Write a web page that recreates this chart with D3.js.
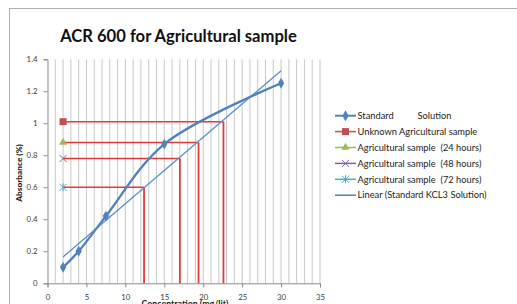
<!DOCTYPE html>
<html><head><meta charset="utf-8">
<script src="https://cdn.jsdelivr.net/npm/d3@7/dist/d3.min.js"></script>
<style>body{margin:0;background:#fff}svg{display:block}text{font-family:Lato,"Liberation Sans",sans-serif}</style>
</head><body><svg id="c" width="517" height="304"></svg>
<script>
const standardX = [2, 4, 7.5, 15, 30];
const standardY = [0.10, 0.20, 0.42, 0.87, 1.25];
const trendX = [2, 30];
const trendY = [0.165, 1.328];
const sampleNames = ["Unknown Agricultural sample","Agricultural sample  (24 hours)","Agricultural sample  (48 hours)","Agricultural sample  (72 hours)"];
const sampleX0 = [2, 2, 2, 2];
const sampleY = [1.01, 0.88, 0.78, 0.60];
const sampleConc = [22.6, 19.4, 17.0, 12.4];
const xTicks = [0,5,10,15,20,25,30,35];
const yTicks = [0,0.2,0.4,0.6,0.8,1,1.2,1.4];
const legendLabels = ["Standard          Solution","Unknown Agricultural sample","Agricultural sample  (24 hours)","Agricultural sample  (48 hours)","Agricultural sample  (72 hours)","Linear (Standard KCL3 Solution)"];

const svg = d3.select("#c");
const x = d3.scaleLinear().domain([0,35]).range([47.5,320]);
const y = d3.scaleLinear().domain([0,1.4]).range([283.3,59.3]);

// frame
svg.append("rect").attr("x",9.5).attr("y",8.5).attr("width",520).attr("height",310)
  .attr("fill","#fff").attr("stroke","#b0b0b0").attr("stroke-width",1);

// title
svg.append("text").attr("x",178.5).attr("y",41.5).attr("text-anchor","middle")
  .attr("font-size",16.6).attr("font-weight","bold").attr("fill","#111").text("ACR 600 for Agricultural sample");

// gridlines every 1 unit
const grid = d3.range(1,36);
svg.append("g").selectAll("line").data(grid).join("line")
  .attr("x1",d=>x(d)).attr("x2",d=>x(d)).attr("y1",y(0)).attr("y2",y(1.4))
  .attr("stroke","#c8c8c8").attr("stroke-width",1);

// axes
const xAxis = svg.append("g").attr("transform",`translate(0,${y(0)})`)
  .call(d3.axisBottom(x).tickValues(xTicks).tickSize(4).tickFormat(d3.format("d")));
const yAxis = svg.append("g").attr("transform",`translate(${x(0)},0)`)
  .call(d3.axisLeft(y).tickValues(yTicks).tickSize(4).tickFormat(d=>d===0?"0":d===1?"1":d3.format(".1f")(d)));
[xAxis,yAxis].forEach(a=>{
  a.select(".domain").attr("stroke","#8a8a8a");
  a.selectAll(".tick line").attr("stroke","#8a8a8a");
  a.selectAll("text").attr("font-size",7.8).attr("fill","#404040").attr("font-family","Lato,'Liberation Sans',sans-serif");
});
xAxis.selectAll("text").attr("dy","0").attr("y",17);
yAxis.selectAll("text").attr("x",-10);

// axis titles
svg.append("text").attr("transform","translate(22,173) rotate(-90)").attr("text-anchor","middle")
  .attr("font-size",8.3).attr("font-weight","900").attr("fill","#222").text("Absorbance (%)");
svg.append("text").attr("x",185).attr("y",306.5).attr("text-anchor","middle")
  .attr("font-size",8.8).attr("font-weight","bold").attr("fill","#222").text("Concentration (mg/lit)");

// red guide lines
const red = "#e53a3a";
sampleY.forEach((v,i)=>{
  svg.append("line").attr("x1",x(sampleX0[i])).attr("x2",x(sampleConc[i])).attr("y1",y(v)).attr("y2",y(v))
    .attr("stroke",red).attr("stroke-width",1.6);
  svg.append("line").attr("x1",x(sampleConc[i])).attr("x2",x(sampleConc[i])).attr("y1",y(v)).attr("y2",y(0))
    .attr("stroke",red).attr("stroke-width",1.8);
});

// trend line
svg.append("line").attr("x1",x(trendX[0])).attr("y1",y(trendY[0])).attr("x2",x(trendX[1])).attr("y2",y(trendY[1]))
  .attr("stroke","#5b8fcc").attr("stroke-width",1.3);

// standard line
const std = standardX.map((d,i)=>[d,standardY[i]]);
svg.append("path").datum(std).attr("fill","none").attr("stroke","#4f81bd").attr("stroke-width",2.3)
  .attr("d",d3.line().x(d=>x(d[0])).y(d=>y(d[1])).curve(d3.curveCatmullRom.alpha(0.5)));
const diamond = d3.symbol().type(d3.symbolDiamond).size(34);
svg.append("g").selectAll("path").data(std).join("path")
  .attr("transform",d=>`translate(${x(d[0])},${y(d[1])})`).attr("d",diamond).attr("fill","#4f81bd");

// sample markers
const colors = ["#c0504d","#9bbb59","#8064a2","#4bacc6"];
function marker(g,i,cx,cy){
  if(i===0) g.append("rect").attr("x",cx-3.5).attr("y",cy-3.5).attr("width",7).attr("height",7).attr("fill",colors[0]);
  else if(i===1) g.append("path").attr("transform",`translate(${cx},${cy})`).attr("d",d3.symbol().type(d3.symbolTriangle).size(28)()).attr("fill",colors[1]);
  else if(i===2) g.append("path").attr("transform",`translate(${cx},${cy})`).attr("d","M-3.5,-3.5L3.5,3.5M-3.5,3.5L3.5,-3.5").attr("stroke",colors[2]).attr("stroke-width",1);
  else g.append("path").attr("transform",`translate(${cx},${cy})`).attr("d","M-3.5,-3.5L3.5,3.5M-3.5,3.5L3.5,-3.5M0,-4L0,4").attr("stroke",colors[3]).attr("stroke-width",1);
}
const mk = svg.append("g");
sampleY.forEach((v,i)=>marker(mk,i,x(sampleX0[i]),y(v)));

// legend
const lg = svg.append("g");
const lineColors = ["#4f81bd","#c0504d","#9bbb59","#8064a2","#4bacc6","#4f81bd"];
legendLabels.forEach((t,i)=>{
  const ly = 115.7 + i*15.9;
  lg.append("line").attr("x1",335).attr("x2",356).attr("y1",ly).attr("y2",ly).attr("stroke",lineColors[i]).attr("stroke-width",i===0?2:1.5);
  if(i===0) lg.append("path").attr("transform",`translate(345.5,${ly})`).attr("d",diamond).attr("fill","#4f81bd");
  else if(i<5) marker(lg,i-1,345.5,ly);
  lg.append("text").attr("x",357.5).attr("y",ly+3.2).attr("font-size",9.3).attr("fill","#222")
    .attr("xml:space","preserve").style("white-space","pre").text(t);
});
</script></body></html>
